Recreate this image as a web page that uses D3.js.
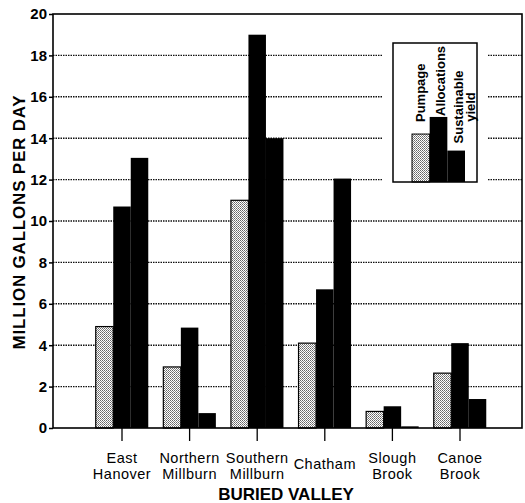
<!DOCTYPE html>
<html><head><meta charset="utf-8">
<script src="https://cdn.jsdelivr.net/npm/d3@7"></script>
<style>body{margin:0;background:#fff}svg{display:block}text{font-family:"Liberation Sans",Arial,sans-serif}</style>
</head><body>
<script>
const categories = ["East Hanover","Northern Millburn","Southern Millburn","Chatham","Slough Brook","Canoe Brook"];
const categoryLines = [["East","Hanover"],["Northern","Millburn"],["Southern","Millburn"],["Chatham"],["Slough","Brook"],["Canoe","Brook"]];
const series = ["Pumpage","Allocations","Sustainable yield"];
const pumpage = [4.9, 2.95, 11.0, 4.1, 0.8, 2.65];
const allocations = [10.7, 4.85, 19.0, 6.7, 1.05, 4.1];
const sustainable = [13.05, 0.72, 14.0, 12.05, 0.08, 1.4];
const yTicks = [0,2,4,6,8,10,12,14,16,18,20];
const legendSample = [0.345, 0.468, 0.226];

const W=525,H=503;
const svg=d3.select("body").append("svg").attr("width",W).attr("height",H);
const defs=svg.append("defs");
const pat=defs.append("pattern").attr("id","stip").attr("width",2).attr("height",2).attr("patternUnits","userSpaceOnUse");
pat.append("rect").attr("width",2).attr("height",2).attr("fill","#fff");
pat.append("rect").attr("x",0).attr("y",0).attr("width",1).attr("height",1).attr("fill","#666");
pat.append("rect").attr("x",1).attr("y",1).attr("width",1).attr("height",1).attr("fill","#888");

const L=53,R=522,T=14,B=428;
const y=d3.scaleLinear().domain([0,20]).range([B,T]);
const x=d3.scaleBand().domain(categories).range([88.2,493.8]).paddingInner(0.223).paddingOuter(0.1115);
const xs=d3.scaleBand().domain(series).range([0,x.bandwidth()]);
const fills={"Pumpage":"url(#stip)","Allocations":"#000","Sustainable yield":"#000"};
const vals={"Pumpage":pumpage,"Allocations":allocations,"Sustainable yield":sustainable};

// gridlines
svg.append("g").selectAll("line").data(yTicks.filter(d=>d>0&&d<20)).join("line")
  .attr("x1",L).attr("x2",R).attr("y1",d=>y(d)).attr("y2",d=>y(d))
  .attr("stroke","#111").attr("stroke-width",1.4).attr("stroke-dasharray","1.5,1");

// bars
const g=svg.append("g");
categories.forEach((c,i)=>{
  series.forEach(s=>{
    const v=vals[s][i];
    g.append("rect").attr("x",x(c)+xs(s)).attr("y",y(v)).attr("width",xs.bandwidth()).attr("height",B-y(v))
      .attr("fill",fills[s]).attr("stroke",s==="Pumpage"?"#000":"none").attr("stroke-width",1.2);
  });
});

// frame
svg.append("rect").attr("x",L).attr("y",T).attr("width",R-L).attr("height",B-T).attr("fill","none").attr("stroke","#000").attr("stroke-width",1.6);

// y axis
const ya=svg.append("g").attr("transform",`translate(${L},0)`).call(d3.axisLeft(y).tickValues(yTicks).tickSize(4).tickPadding(2));
ya.select(".domain").remove();
ya.selectAll("line").attr("stroke","#000").attr("stroke-width",1.5);
ya.selectAll("text").attr("font-size",15).attr("font-weight","bold").attr("fill","#000").attr("font-family","Liberation Sans, Arial, sans-serif");

// x axis
const xa=svg.append("g").attr("transform",`translate(0,${B})`).call(d3.axisBottom(x).tickSize(13).tickFormat(""));
xa.select(".domain").remove();
xa.selectAll("line").attr("stroke","#000").attr("stroke-width",1.3);

// category labels
categories.forEach((c,i)=>{
  const lines=categoryLines[i];
  const cx=x(c)+x.bandwidth()/2;
  if(lines.length===1){
    svg.append("text").attr("x",cx).attr("y",469).attr("text-anchor","middle").attr("font-size",14.5).attr("letter-spacing",0.5).text(lines[0]);
  } else lines.forEach((ln,j)=>svg.append("text").attr("x",cx).attr("y",463+16*j).attr("text-anchor","middle").attr("font-size",14.5).attr("letter-spacing",0.5).text(ln));
});

// axis titles
svg.append("text").attr("x",286).attr("y",500).attr("text-anchor","middle").attr("font-size",17).attr("font-weight","bold").text("BURIED VALLEY");
svg.append("text").attr("transform","translate(25,222) rotate(-90)").attr("text-anchor","middle").attr("font-size",17).attr("font-weight","bold").attr("letter-spacing",0.8).text("MILLION GALLONS PER DAY");

// legend
const lg=svg.append("g");
lg.append("rect").attr("x",383).attr("y",34).attr("width",104).attr("height",156).attr("fill","#fff");
const ly=d3.scaleLinear().domain([0,1]).range([182,43]);
const lx=d3.scaleBand().domain(series).range([412,465]);
series.forEach((s,i)=>{
  lg.append("rect").attr("x",lx(s)).attr("y",ly(legendSample[i])).attr("width",lx.bandwidth()).attr("height",182-ly(legendSample[i]))
    .attr("fill",fills[s]).attr("stroke",s==="Pumpage"?"#000":"none").attr("stroke-width",1);
});
lg.append("rect").attr("x",393).attr("y",43).attr("width",84).attr("height",139).attr("fill","none").attr("stroke","#000").attr("stroke-width",1.5);
const lt=(tx,ty,anchor,str)=>lg.append("text").attr("transform",`translate(${tx},${ty}) rotate(-90)`).attr("text-anchor",anchor).attr("font-size",13).attr("font-weight","bold").text(str);
lt(425,122,"start","Pumpage");
lt(445,116,"start","Allocations");
lt(462.5,107,"middle","Sustainable");
lt(475,107,"middle","yield");
</script>
</body></html>
